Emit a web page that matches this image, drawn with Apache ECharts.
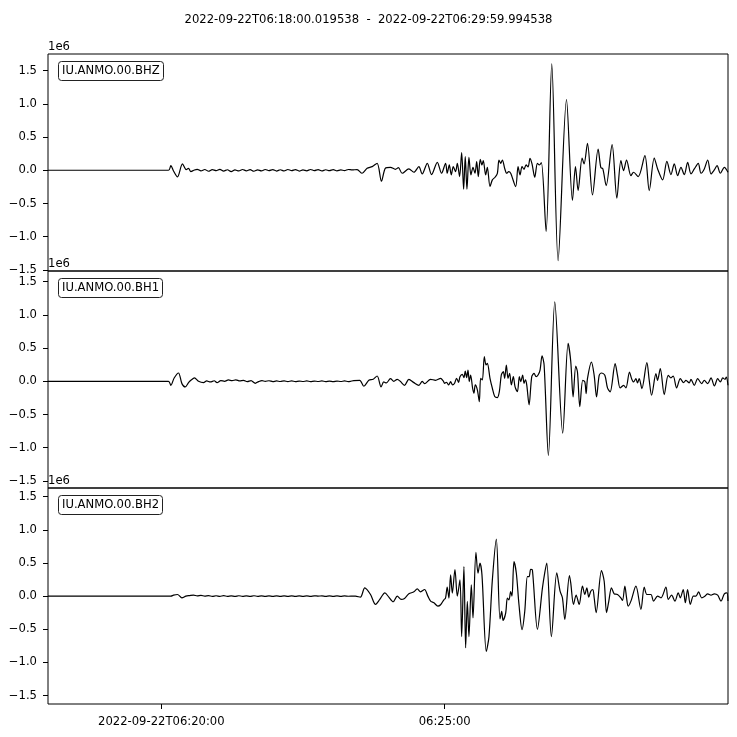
<!DOCTYPE html>
<html>
<head>
<meta charset="utf-8">
<script src="https://cdn.jsdelivr.net/npm/echarts@6/dist/echarts.min.js"></script>
<style>
html,body{margin:0;padding:0;background:#fff;}
#chart{width:737px;height:737px;}
</style>
</head>
<body>
<div id="chart"></div>
<script>
// Time axis: seconds after 2022-09-22T06:18:00 ; values in units of 1e6 counts
const startSec = 0.019538;
const endSec = 719.994538;
const titleText = '2022-09-22T06:18:00.019538  -  2022-09-22T06:29:59.994538';
const traceNames = ['IU.ANMO.00.BHZ', 'IU.ANMO.00.BH1', 'IU.ANMO.00.BH2'];
const xTickValues = [120, 420];
const xTickLabels = ['2022-09-22T06:20:00', '06:25:00'];
const yTickValues = [-1.5, -1.0, -0.5, 0.0, 0.5, 1.0, 1.5];
const yLimits = [[-1.516, 1.75], [-1.607, 1.661], [-1.627, 1.631]];

const bhzTime = [0.02,127.6,130.1,132.9,137.1,142.4,146.3,148.8,151.3,154.4,
158,162,166,170,174,178,182,186,190,194,198,202,206,210,214,218,222,226,230,234,238,242,246,250,254,258,262,266,270,274,278,282,286,290,294,298,302,306,310,314,318,322,327.3,
332.6,337.9,343.2,348.5,353.1,357.4,362.6,367.9,371,375.0,382.1,387.4,392.7,396.2,401.6,406.1,412.2,416.7,421.0,
422.7,424.9,427.0,429.1,431.6,433.4,435.8,438.0,440.1,441.8,443.6,445.7,447.8,450.0,452.1,453.9,455.6,457.7,459.5,460.9,463.4,465.2,468.0,470.5,473.3,475.8,477.5,479.3,481.1,483.5,485.7,487.8,489.9,495.2,497.7,499.8,501.9,504.0,506.2,508.3,510.4,512.5,515.4,518.2,520.3,522.4,
527.4,533.4,540.1,549.0,555.3,558.5,561.3,565.5,567.6,571.2,576.5,582.5,585.3,587.5,591.0,597.3,602.3,606.6,609.4,612.6,617.2,620.0,624.9,632.0,636.6,641.9,645.5,650.8,655.3,659.6,663.1,666.7,670.2,673.7,677.3,680.8,684.3,688.5,691.4,694.9,698.5,702.0,705.5,708.4,711.9,716.1,719.97];
const bhzE6 = [0,0,0.07,-0.01,-0.10,0.095,0.01,0.03,-0.02,0.0,
0.015,-0.01,0.012,-0.015,0.01,-0.005,0.015,-0.012,0.008,-0.02,0.005,-0.01,0.012,-0.008,0.01,-0.015,0.006,-0.01,0.012,-0.006,0.01,-0.012,0.008,-0.01,0.012,-0.005,0.01,-0.012,0.006,-0.008,0.012,-0.006,0.01,-0.01,0.008,-0.006,0.01,-0.008,0.006,-0.005,0.012,0.005,0.01,
-0.045,0.03,0.055,0.105,-0.165,0.035,0.045,0.015,0.04,-0.045,0.02,-0.03,0.055,-0.055,0.105,-0.065,0.12,-0.045,0.105,
-0.045,0.08,-0.07,0.055,-0.02,0.105,-0.095,0.265,-0.285,0.205,-0.285,0.195,-0.07,0.045,-0.045,0.13,-0.095,0.165,0.08,0.145,-0.07,0.045,-0.245,-0.145,-0.105,-0.045,0.155,0.105,0.155,0.03,-0.045,-0.02,-0.045,-0.245,0.055,-0.07,0.055,0.015,0.08,0.05,0.18,0.095,-0.105,0.105,0.08,0.115,
-0.92,1.60,-1.36,1.065,-0.455,0.055,-0.305,0.185,0.095,0.405,-0.37,0.32,0.045,0.02,-0.23,0.385,-0.42,0.145,-0.005,0.155,-0.08,-0.03,-0.095,0.22,-0.305,0.185,0.02,-0.145,0.135,-0.065,0.095,-0.08,0.045,-0.065,0.12,-0.055,0.02,0.105,-0.045,0.02,0.155,-0.055,0.005,0.07,-0.045,0.045,-0.03];

const bh1Time = [0.02,127.6,130.1,133.6,138.2,141.8,145.3,148.8,151.3,155.1,159.4,164.7,
168,172,176,179,183,187,191,195,199,203,207,211,215,219.5,223,226.6,230,234,238,242,246,250,254,258,262,266,270,274,278,282,286,290,294,298,302,306,310,314,318,320.2,
323.7,330.1,334.4,339.7,344.3,348.5,352.7,355.5,358.3,362.6,366.2,369.8,373,377.5,382.1,387.4,392.7,396.2,398.7,405.1,410.4,
415.7,418.5,419.9,422.0,424.2,426.3,428.4,430.5,432.6,434.8,436.2,438.7,440.4,441.8,443.3,444.7,446.1,447.5,449.6,451.0,452.4,454.6,456.7,458.1,459.9,462.0,463.8,465.2,468.0,470.5,473.0,475.8,477.9,480.0,482.1,483.5,485.3,487.1,488.8,490.6,492.7,494.5,497.0,499.1,500.5,502.6,504.0,505.5,506.9,509.4,512.2,514.7,516.8,518.9,521.0,523.1,525.3,
529.8,536.6,545.0,550.7,553.5,556.0,558.8,560.6,563.1,566.2,568.4,569.8,571.2,575.4,578.3,580.8,583.6,586.0,589.6,592.4,595.2,600.5,603.0,605.8,609.4,611.9,615.7,617.9,620.0,622.5,624.2,626.0,628.8,634.1,636.6,639.1,643.7,645.4,648.3,652.5,656.7,659.6,662.0,665.6,669.5,673.0,675.5,679.0,680.8,684.3,687.9,692.1,694.9,698.5,702.0,705.6,709.1,711.9,714.5,716.8,718.2,719.97];
const bh1E6 = [0,0,-0.06,0.05,0.125,-0.035,-0.085,-0.02,0.015,0.05,0,-0.02,
0.005,-0.01,0.008,-0.02,0.01,0.0,0.02,0.01,0.022,0.005,0.015,-0.005,0.01,-0.03,-0.005,0.01,0.0,0.008,-0.005,0.005,-0.003,0.006,-0.004,0.005,-0.005,0.004,-0.003,0.005,-0.004,0.004,-0.003,0.005,-0.004,0.004,-0.005,0.004,-0.003,0.005,-0.004,0.0,
0.01,0.015,-0.075,0.015,0.03,0.08,-0.085,-0.01,-0.025,0.04,0,0.03,0.0,-0.06,0.03,-0.02,-0.06,0,-0.035,0.03,0.015,
0.045,0.005,-0.03,-0.015,-0.055,-0.005,-0.055,-0.03,0.045,-0.015,0.07,0.105,0.055,0.155,0.055,0.17,-0.005,0.095,-0.105,-0.18,-0.055,-0.13,-0.305,0.045,0.02,0.37,0.245,0.27,0.045,-0.105,-0.23,-0.245,-0.155,0.095,0.145,0.045,0.245,0.045,0.12,-0.055,0.07,-0.08,-0.155,0.07,-0.005,0.095,-0.03,0.02,-0.055,-0.355,0.07,0.12,0.07,0.095,0.17,0.385,0.245,
-1.115,1.195,-0.78,0.57,0.30,-0.235,0.23,0.14,-0.38,0.015,-0.01,-0.185,0.04,0.29,0.09,-0.235,0.09,0.125,0.09,-0.1,-0.16,0.265,0.09,-0.1,-0.06,-0.1,0.14,0.04,-0.01,0.04,-0.025,0.04,-0.11,0.28,0.015,-0.21,0.115,0.015,0.19,-0.2,0.09,0.05,0.08,-0.1,0.04,-0.02,0.015,-0.025,0.03,-0.06,0.04,-0.035,0.015,-0.035,0.05,-0.07,0.04,-0.01,0.05,0.03,0.065,-0.06];

const bh2Time = [0.02,130.1,132.9,137.1,141.8,146,150,154.1,
158,162,166,170,174,178,182,186,190,194,198,202,206,210,214,218,222,226,230,234,238,242,246,250,254,258,262,266,270,274,278,282,286,290,294,298,302,306,310,314,318,323.7,
325.5,330.8,335.4,341.5,346.8,351.3,356.7,360.9,365.5,369.8,374.0,377.5,382.1,387.4,391.0,394.5,398.7,402.2,405.1,408.6,412.8,
415.7,419.2,420.9,422.7,424.5,426.3,428.1,430.9,433.4,436.2,438.0,440.4,442.2,444.0,445.7,448.2,450.0,453.1,455.3,457.4,459.5,464.1,466.9,470.5,474.7,478.6,480.4,481.8,484.6,486.4,488.1,489.9,491.3,493.4,495.9,498.7,501.9,504.8,507.6,509.4,511.1,512.9,518.2,523.5,526.0,528.1,
533.0,538.7,542.2,544.7,547.2,552.1,553.5,556.4,559.2,562.4,565.9,568.4,570.5,572.6,574.7,576.9,578.3,580.4,586.0,588.9,591.4,593.8,596.6,599.5,603.0,606.5,608.3,610.8,612.6,614.3,617.2,622.5,627.8,631.3,634.1,638.4,641.2,645.4,649.0,654.3,656.7,660.3,663.8,667.3,669.5,672.6,674.8,677.2,680.1,683.3,686,688.9,692.1,695.5,698.5,702.0,705.5,709.1,712.6,716.1,718.9,719.97];
const bh2E6 = [0,0,0.015,0.025,-0.025,0.0,0.008,0.015,
0.005,0.012,0.0,0.008,-0.005,0.006,-0.004,0.007,-0.003,0.005,-0.004,0.006,-0.003,0.005,-0.004,0.006,-0.003,0.004,-0.004,0.005,-0.003,0.004,-0.004,0.005,-0.003,0.004,-0.004,0.005,-0.003,0.004,-0.004,0.005,0.0,0.004,-0.003,0.004,-0.004,0.005,-0.003,0.003,-0.002,0.0,
0.0,-0.015,0.125,0.025,-0.125,-0.05,0.05,-0.015,-0.085,0,-0.05,-0.035,0.035,0.065,0.11,0.065,0.1,0,-0.075,-0.1,-0.15,
-0.13,-0.055,-0.03,0.135,-0.03,0.32,0.045,0.4,0,0.245,-0.61,0.445,-0.78,-0.08,-0.61,0.17,-0.33,0.66,0.345,0.5,0.32,-0.835,-0.61,0.245,0.86,-0.345,-0.23,-0.365,-0.255,-0.03,-0.055,0.07,0.0,0.52,0.345,-0.13,-0.505,-0.23,0.295,0.295,0.405,0.395,-0.5,0.12,0.355,0.5,
-0.61,0.35,0.075,-0.025,-0.35,0.31,0.2,-0.125,0.015,-0.125,0.15,0.025,0.125,-0.015,0.075,0.1,-0.025,-0.25,0.385,0.225,-0.25,-0.075,0.125,0.035,0.025,-0.025,-0.065,0.15,-0.025,-0.15,-0.075,0.15,-0.2,0.135,0.025,0.025,-0.075,0,-0.025,0.135,-0.05,0.015,-0.075,0.05,-0.025,0.1,-0.1,0.1,-0.125,0,0.0,0.065,-0.025,0.0,0.035,0.015,0.035,0.015,-0.075,0.035,0.05,-0.075];

const traceTimes = [bhzTime, bh1Time, bh2Time];
const traceValues = [bhzE6, bh1E6, bh2E6];

const FONT = 'DejaVu Sans';
const gridTops = [54, 271, 488];
const gridHeights = [217, 217, 216];

function yFmt(v) {
  const s = Math.abs(v).toFixed(1);
  return v < 0 ? '\u2212' + s : s;
}

const grids = [], xAxes = [], yAxes = [], series = [], titles = [];
titles.push({
  text: titleText, left: 'center', top: 9,
  textStyle: {fontFamily: FONT, fontSize: 11.6, fontWeight: 'normal', color: '#000'}
});
for (let i = 0; i < 3; i++) {
  grids.push({left: 48, right: 9, top: gridTops[i], height: gridHeights[i],
    show: true, borderColor: '#000', borderWidth: 1, backgroundColor: 'transparent'});
  const isLast = i === 2;
  xAxes.push({
    type: 'value', gridIndex: i, min: startSec, max: endSec, position: 'bottom',
    axisLine: {show: false, onZero: false},
    splitLine: {show: false},
    axisTick: {show: isLast, length: 5, lineStyle: {color: '#000', width: 1}, customValues: xTickValues},
    axisLabel: {show: isLast, margin: 12, customValues: xTickValues, fontFamily: FONT, fontSize: 11.6, color: '#000',
      formatter: function (v) { const k = xTickValues.indexOf(v); return k >= 0 ? xTickLabels[k] : ''; }}
  });
  yAxes.push({
    type: 'value', gridIndex: i, min: yLimits[i][0], max: yLimits[i][1], position: 'left',
    name: '1e6', nameLocation: 'end', nameGap: 1,
    nameTextStyle: {fontFamily: FONT, fontSize: 11.6, color: '#000', align: 'left', verticalAlign: 'bottom', padding: [0, 0, 0, 0]},
    axisLine: {show: false, onZero: false},
    splitLine: {show: false},
    axisTick: {show: true, length: 5, lineStyle: {color: '#000', width: 1}, customValues: yTickValues},
    axisLabel: {margin: 11, customValues: yTickValues, fontFamily: FONT, fontSize: 11.6, color: '#000', formatter: yFmt}
  });
  const data = traceTimes[i].map((t, k) => [t, traceValues[i][k]]);
  series.push({
    type: 'line', xAxisIndex: i, yAxisIndex: i, data: data,
    showSymbol: false, symbol: 'none', smooth: 0.3, sampling: null,
    lineStyle: {color: '#000', width: 1.2}, silent: true
  });
  titles.push({
    text: traceNames[i], left: 58, top: gridTops[i] + 7,
    padding: [4, 4, 4, 4], borderColor: '#222', borderWidth: 1, borderRadius: 3,
    backgroundColor: '#fff',
    textStyle: {fontFamily: FONT, fontSize: 11.6, fontWeight: 'normal', color: '#000', lineHeight: 12}
  });
}

const chart = echarts.init(document.getElementById('chart'), null, {renderer: 'canvas'});
chart.setOption({
  animation: false,
  backgroundColor: '#fff',
  title: titles,
  grid: grids,
  xAxis: xAxes,
  yAxis: yAxes,
  series: series
});
</script>
</body>
</html>
